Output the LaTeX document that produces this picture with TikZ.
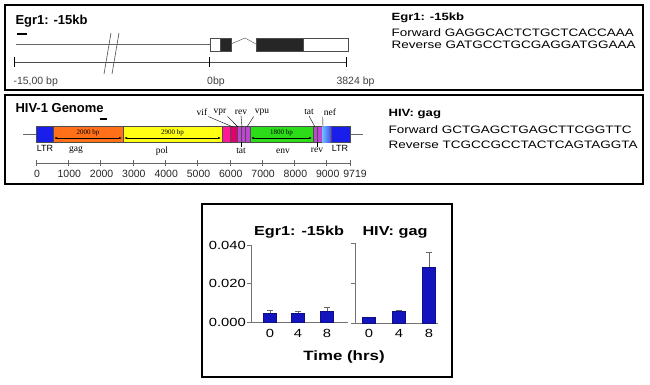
\documentclass[tikz,border=0pt]{standalone}
\usepackage{fontspec}
\setmainfont{Liberation Sans}
\newfontfamily\widesans[FakeStretch=1.25]{Liberation Sans}
\newfontfamily\genefont{Liberation Serif}
\usetikzlibrary{arrows.meta}
\definecolor{ltrblue}{RGB}{25,30,235}
\definecolor{gagorange}{RGB}{255,112,25}
\definecolor{polyellow}{RGB}{255,255,20}
\definecolor{hotpink}{RGB}{255,25,150}
\definecolor{deeppink}{RGB}{225,0,110}
\definecolor{accpurple}{RGB}{190,70,210}
\definecolor{envgreen}{RGB}{45,220,25}
\definecolor{nefblue}{RGB}{110,195,255}
\definecolor{barblue}{RGB}{20,20,190}

\tikzset{
  frame/.style={draw,line width=1.3pt},
  bigtitle/.style={font=\bfseries\fontsize{13}{15}\selectfont,anchor=base west},
  primtitle/.style={font=\widesans\bfseries\fontsize{10.5}{12}\selectfont,anchor=base west},
  primer/.style={font=\widesans\fontsize{10.8}{13}\selectfont,anchor=base west},
  scalelbl/.style={font=\fontsize{10.5}{12}\selectfont,text=black!75,anchor=base},
  genelbl/.style={font=\genefont\fontsize{9.5}{11}\selectfont,inner sep=1pt},
  bplbl/.style={font=\genefont\fontsize{7}{8}\selectfont,inner sep=0pt},
  seg/.style={draw=black!70,line width=0.3pt},
  leader/.style={draw,line width=0.4pt},
  bparrow/.style={line width=0.4pt,{Latex[length=3pt,width=2pt]}-{Latex[length=3pt,width=2pt]}},
  charttl/.style={font=\widesans\bfseries\fontsize{13}{15}\selectfont,anchor=base},
  ticklbl/.style={font=\widesans\fontsize{11.8}{13}\selectfont},
  axis/.style={draw=black!55,line width=0.6pt},
  bar/.style={fill=barblue,draw=barblue!70!black,line width=0.3pt},
  errbar/.style={draw=black!60,line width=0.6pt}
}

\begin{document}
\begin{tikzpicture}[x=1pt,y=-1pt]
\useasboundingbox (0,0) rectangle (650,384);

% Egr1 panel
\draw[frame] (5,5) rectangle (643,90);
\node[bigtitle] (egrtitle) at (12,24) {Egr1: -15kb};
\draw[line width=2pt] (17,34) -- (27,34);
\draw[black!60,line width=0.6pt] (16,44) -- (210,44);
\draw[black!70,line width=0.6pt] (111,33) -- (104,74) (119,33) -- (112,74);
\draw[seg,fill=white] (210,38) rectangle (220,51);
\draw[seg,fill=black!85] (220,38) rectangle (231,51);
\draw[black!60,line width=0.5pt] (231,44) -- (245,38) -- (256,44);
\draw[seg,fill=black!85] (256,38) rectangle (303,51);
\draw[seg,fill=white] (303,38) rectangle (348,51);
\draw[black!70,line width=0.6pt] (14,62) -- (346,62);
\foreach \x in {14,209,346}
  \draw[line width=0.9pt] (\x,57) -- (\x,67);
\node[scalelbl,anchor=base west] (egrstart) at (10,84) {-15,00 bp};
\node[scalelbl] (egrzero) at (216,84) {0bp};
\node[scalelbl,anchor=base west] (egrend) at (333,84) {3824 bp};
\node[primtitle] (egrprim) at (388,20.7) {Egr1: -15kb};
\node[primer] (egrfwd) at (388,36.7) {Forward GAGGCACTCTGCTCACCAAA};
\node[primer] (egrrev) at (388,48.8) {Reverse GATGCCTGCGAGGATGGAAA};

% HIV-1 panel
\draw[frame] (5,95) rectangle (643,184);
\node[bigtitle] (hivtitle) at (12,112.7) {HIV-1 Genome};
\draw[line width=2.5pt] (100,119) -- (107,119);
\draw[black!60,line width=0.6pt] (23,134) -- (363,134);
\draw[seg,fill=ltrblue] (36,126) rectangle (53,142);
\draw[seg,fill=gagorange] (53,126) rectangle (123,142);
\draw[seg,fill=polyellow] (123,126) rectangle (222,142);
\draw[seg,fill=hotpink] (222,126) rectangle (230,142);
\draw[seg,fill=deeppink] (230,126) rectangle (237,142);
\foreach \a/\b in {237/241,241/245,245/250}
  \draw[seg,fill=accpurple] (\a,126) rectangle (\b,142);
\draw[seg,fill=envgreen] (250,126) rectangle (313,142);
\foreach \a/\b in {313/317,317/322}
  \draw[seg,fill=accpurple] (\a,126) rectangle (\b,142);
\shade[left color=nefblue,right color=ltrblue!80] (322,126) rectangle (331,142);
\draw[seg,fill=ltrblue] (331,126) rectangle (350,142);
\draw[bparrow] (54,138) -- (122,138) node[bplbl,midway,above=2pt] {2000 bp};
\draw[bparrow] (124,138) -- (221,138) node[bplbl,midway,above=2pt] {2900 bp};
\draw[bparrow] (251,138) -- (312,138) node[bplbl,midway,above=2pt] {1800 bp};
\node[genelbl] (vif) at (202,112) {vif};
\node[genelbl] (vpr) at (220,112) {vpr};
\node[genelbl] (revtop) at (241,112) {rev};
\node[genelbl] (vpu) at (262,112) {vpu};
\node[genelbl] (tattop) at (309,112) {tat};
\node[genelbl] (nef) at (330,112) {nef};
\coordinate (pvif) at (233,127);
\coordinate (pvpr) at (238,127);
\coordinate (prev) at (242,127);
\coordinate (pvpu) at (247,127);
\coordinate (ptat) at (315,127);
\coordinate (pnef) at (323,127);
\draw[leader] (vif.south east) -- (pvif);
\draw[leader] (vpr.south east) -- (pvpr);
\draw[leader] (revtop.south) -- (prev);
\draw[leader] (vpu.south west) -- (pvpu);
\draw[leader] (tattop.south) -- (ptat);
\draw[leader] (nef.south west) -- (pnef);
\node[font=\fontsize{9}{10}\selectfont,inner sep=1pt] (ltrleft) at (45,148.5) {LTR};
\node[genelbl] (gag) at (76,150) {gag};
\node[genelbl] (pol) at (162,151) {pol};
\node[genelbl] (tatbot) at (241,150.5) {tat};
\node[genelbl] (env) at (283,151.5) {env};
\node[genelbl] (revbot) at (317,150) {rev};
\node[font=\fontsize{9}{10}\selectfont,inner sep=1pt] (ltrright) at (340,148) {LTR};
\coordinate (ptatbot) at (241,142);
\coordinate (prevbot) at (317,142);
\draw[leader] (ptatbot) -- (tatbot);
\draw[leader] (prevbot) -- (revbot);
\draw[black!60,line width=0.5pt] (36,163) -- (350,163);
\foreach \k in {0,...,9}
  \draw[black!60,line width=0.5pt] ({36+\k*32.3},160) -- ({36+\k*32.3},166);
\draw[black!60,line width=0.5pt] (350,160) -- (350,166);
\foreach \k in {0,1000,2000,3000,4000,5000,6000,7000,8000,9000}
  \node[scalelbl,text=black!85] at ({37+\k*0.0323},177) {\k};
\node[scalelbl,text=black!85] (hivend) at (355,177) {9719};
\node[primtitle] (hivprim) at (385,116.7) {HIV: gag};
\node[primer] (hivfwd) at (385,133.3) {Forward GCTGAGCTGAGCTTCGGTTC};
\node[primer] (hivrev) at (385,148.3) {Reverse TCGCCGCCTACTCAGTAGGTA};

% ChIP chart
\draw[frame] (202,204) rectangle (452,377);
\node[charttl] (egrchart) at (299,235) {Egr1: -15kb};
\node[charttl] (hivchart) at (395,235) {HIV: gag};
\draw[axis] (251,245) -- (251,322) -- (348,322);
\foreach \y/\t in {245/0.040,283.5/0.020,322/0.000} {
  \draw[axis] (247,\y) -- (251,\y);
  \node[ticklbl,anchor=east,inner sep=1pt] at (247,\y) {\t};
}
\draw[axis] (355,243) -- (355,323) -- (438,323);
\foreach \y in {243,283,323}
  \draw[axis] (351,\y) -- (355,\y);
\foreach \x/\v/\e in {270/0.0045/0.0060,298/0.0047/0.0054,327/0.0057/0.0075} {
  \draw[errbar] (\x,{322-\v*1925}) -- (\x,{322-\e*1925});
  \draw[errbar] (\x-3,{322-\e*1925}) -- (\x+3,{322-\e*1925});
  \draw[bar] (\x-6.5,322) rectangle (\x+6.5,{322-\v*1925});
}
\foreach \x/\v/\e in {369/0.0027/0.0027,399/0.0061/0.0066,429/0.0282/0.0355} {
  \draw[errbar] (\x,{323-\v*1995}) -- (\x,{323-\e*1995});
  \draw[errbar] (\x-3,{323-\e*1995}) -- (\x+3,{323-\e*1995});
  \draw[bar] (\x-6.5,323) rectangle (\x+6.5,{323-\v*1995});
}
\foreach \x/\t in {270/0,298/4,327/8,369/0,399/4,429/8}
  \node[ticklbl] at (\x,333) {\t};
\node[charttl,font=\widesans\bfseries\fontsize{13.5}{15}\selectfont] (timelbl) at (344,360) {Time (hrs)};
\end{tikzpicture}
\end{document}
